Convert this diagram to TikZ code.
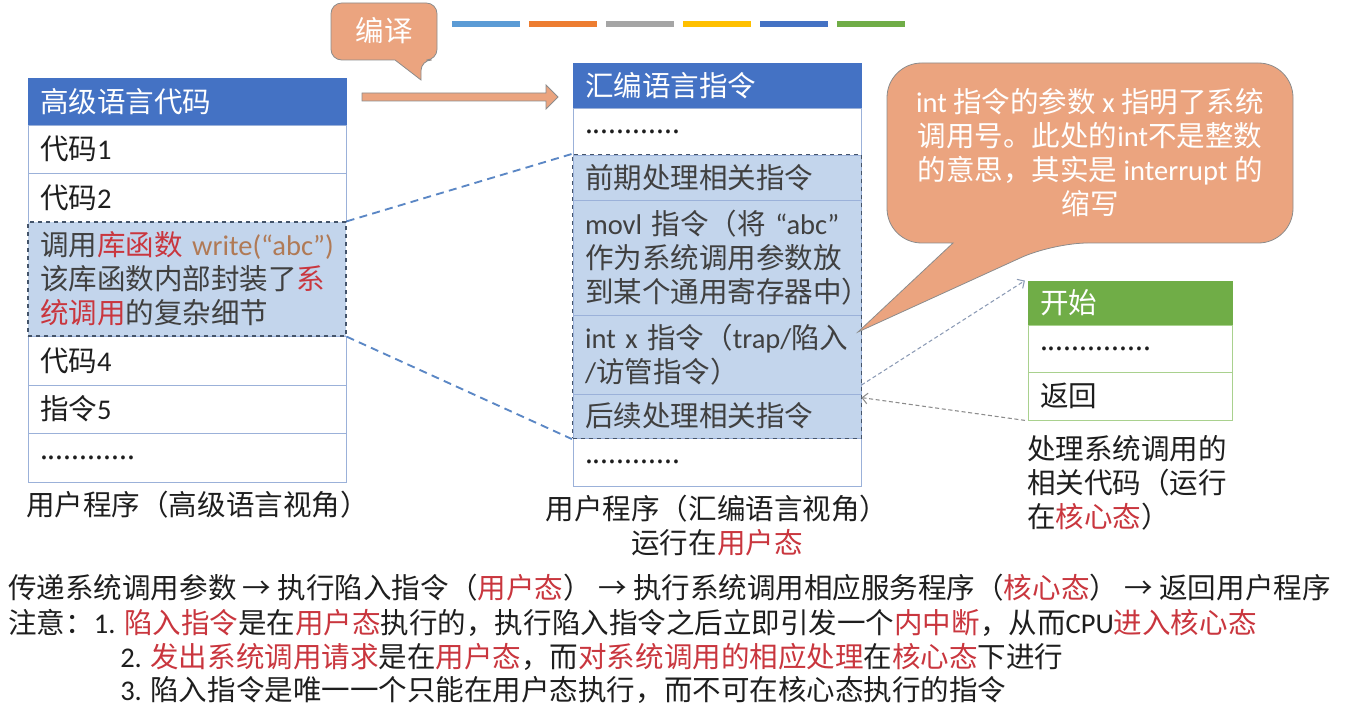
\documentclass[tikz,border=0pt]{standalone}
\usepackage{fontspec}
\setmainfont{Noto Sans CJK SC}
\newfontfamily\latin{Carlito}
\usepackage{xcolor}
\usepackage{tikz}
\usetikzlibrary{arrows.meta,positioning,fit}
\definecolor{headblue}{HTML}{4472C4}
\definecolor{headgreen}{HTML}{70AD47}
\definecolor{cellline}{HTML}{9BB1D9}
\definecolor{greenline}{HTML}{A9D18E}
\definecolor{hilite}{HTML}{C3D5EC}
\definecolor{dashline}{HTML}{44546A}
\definecolor{linkblue}{HTML}{5B87C5}
\definecolor{hopblue}{HTML}{8C9BB5}
\definecolor{hopgray}{HTML}{8C8C8C}
\definecolor{calloutfill}{HTML}{EBA47F}
\definecolor{calloutline}{HTML}{8C8C8C}
\definecolor{keyred}{HTML}{C9363E}
\definecolor{keybrown}{HTML}{B07A56}
\definecolor{textgray}{HTML}{1E1E1E}
\definecolor{midtext}{HTML}{404040}
\definecolor{barA}{HTML}{5B9BD5}
\definecolor{barB}{HTML}{ED7D31}
\definecolor{barC}{HTML}{A5A5A5}
\definecolor{barD}{HTML}{FFC000}
\definecolor{barE}{HTML}{4472C4}
\definecolor{barF}{HTML}{70AD47}
\newcommand{\redtxt}[1]{\textcolor{keyred}{#1}}

\begin{document}
\begin{tikzpicture}[
    x=0.75pt,y=-0.75pt,
    every node/.style = {font=\fontsize{21.4}{25.5}\selectfont, text=textgray},
    cell/.style    = {draw=cellline, line width=0.6pt, align=left,
                      inner xsep=9pt, inner ysep=0pt},
    lcell/.style   = {cell, text width=220.5pt},
    mcell/.style   = {cell, text width=198pt},
    rcell/.style   = {cell, draw=greenline, text width=135pt},
    head/.style    = {fill=headblue, draw=headblue, text=white},
    hl/.style      = {fill=hilite, text=midtext},
    dashbox/.style = {draw=dashline, dashed, line width=1pt},
    link/.style    = {linkblue, line width=1.4pt, dash pattern=on 6pt off 4pt},
    hop/.style     = {-{Straight Barb[length=4pt,width=8pt]}, line width=0.8pt,
                      dash pattern=on 3pt off 2pt},
    bubble/.style  = {fill=calloutfill, draw=calloutline, line width=0.6pt},
    bar/.style     = {line width=4.5pt},
    txt/.style     = {anchor=west, align=left, inner sep=0pt},
  ]
  \useasboundingbox (0,0) rectangle (1352,716);

  % colour strip
  \foreach \c [count=\i from 0] in {barA,barB,barC,barD,barE,barF}
    \draw[bar,\c] (452+77*\i,24) -- ++(68,0);

  % high level view
  \node[lcell,head,minimum height=35.25pt] (lh) at (187,101.5) {高级语言代码};
  \node[lcell,minimum height=36pt]    (l1) at (187,149)   {代码{\latin 1}};
  \node[lcell,minimum height=36.75pt] (l2) at (187,197.5) {代码{\latin 2}};
  \node[lcell,minimum height=36.75pt] (l4) at (187,360.5) {代码{\latin 4}};
  \node[lcell,minimum height=36pt]    (l5) at (187,409)   {指令{\latin 5}};
  \node[lcell,minimum height=36.75pt] (l6) at (187,457.5) {............};
  \node[lcell,hl,dashbox,minimum height=85.5pt] (l3) at (187,279)
       {调用\redtxt{库函数}~\textcolor{keybrown}{\latin write(“abc”)}\\
        该库函数内部封装了\redtxt{系}\\\redtxt{统调用}的复杂细节};
  \node[txt] (lcap) at (26,505) {用户程序（高级语言视角）};

  % assembly view
  \node[mcell,head,minimum height=33.75pt] (mh) at (717,85.5) {汇编语言指令};
  \node[mcell,minimum height=35.25pt] (m1) at (717,131.5) {............};
  \node[mcell,hl,minimum height=33.75pt] (m2) at (717,177.5) {前期处理相关指令};
  \node[mcell,hl,minimum height=86.25pt] (m3) at (717,257.5)
       {{\latin movl}~指令（将~{\latin “abc”}\\作为系统调用参数放\\到某个通用寄存器中）};
  \node[mcell,hl,minimum height=59.25pt] (m4) at (717,354.5)
       {{\latin int~x}~指令（{\latin trap/}陷入\\{\latin /}访管指令）};
  \node[mcell,hl,minimum height=33pt] (m5) at (717,416) {后续处理相关指令};
  \node[mcell,minimum height=36pt]    (m6) at (717,462) {............};
  \node[dashbox,inner sep=0pt,fit=(m2)(m5)] (mcall) {};
  \node[align=center,inner sep=0pt] (mcap) at (717,526)
       {用户程序（汇编语言视角）\\运行在\redtxt{用户态}};

  % kernel handler
  \node[rcell,fill=headgreen,draw=headgreen,text=white,minimum height=33pt]
       (rh) at (1130,303) {开始};
  \node[rcell,minimum height=35.25pt] (r1) at (1130,348.5) {..............};
  \node[rcell,minimum height=36pt]    (r2) at (1130,396)   {返回};
  \node[txt] (rcap) at (1027,483) {处理系统调用的\\相关代码（运行\\在\redtxt{核心态}）};

  % compile arrow and callouts
  \draw[bubble,rounded corners=8pt] (395,60) -- (331,60) -- (331,3) -- (437,3)
       -- (437,60) -- (421,60) [sharp corners] -- (421,80) -- cycle;
  \node[text=white] (comp) at (384,31) {编译};
  \draw[bubble] (362,93) -- (546,93) -- (546,85) -- (558,97) -- (546,109)
       -- (546,101) -- (362,101) -- cycle;

  \draw[bubble,rounded corners=26pt] (953,243) -- (887,243) -- (887,63)
       -- (1293,63) -- (1293,243) -- (1053,243) [sharp corners] -- (858,332) -- cycle;
  \node[align=center,text=white] (note) at (1090,153)
       {{\latin int} 指令的参数 {\latin x} 指明了系统\\调用号。此处的{\latin int}不是整数\\的意思，其实是 {\latin interrupt} 的\\缩写};

  % connectors
  \draw[link] (l3.north east) -- (mcall.north west);
  \draw[link] (l3.south east) -- (mcall.south west);
  \draw[hop,draw=hopblue] ([yshift=7pt]m4.south east) -- ([xshift=-2pt]rh.north west);
  \draw[hop,draw=hopgray] ([xshift=-2pt]r2.south west) -- ([yshift=-3pt]m5.north east);

  % summary
  \node[txt] (flow) at (8,588) {传递系统调用参数 → 执行陷入指令（\redtxt{用户态}） → 执行系统调用相应服务程序（\redtxt{核心态}） → 返回用户程序};
  \node[txt] (n1) at (8,623) {注意：{\latin 1.} \redtxt{陷入指令}是在\redtxt{用户态}执行的，执行陷入指令之后立即引发一个\redtxt{内中断}，从而{\latin CPU}\redtxt{进入核心态}};
  \node[txt] (n2) at (120,657) {{\latin 2.} \redtxt{发出系统调用请求}是在\redtxt{用户态}，而\redtxt{对系统调用的相应处理}在\redtxt{核心态}下进行};
  \node[txt] (n3) at (120,690) {{\latin 3.} 陷入指令是唯一一个只能在用户态执行，而不可在核心态执行的指令};
\end{tikzpicture}
\end{document}
